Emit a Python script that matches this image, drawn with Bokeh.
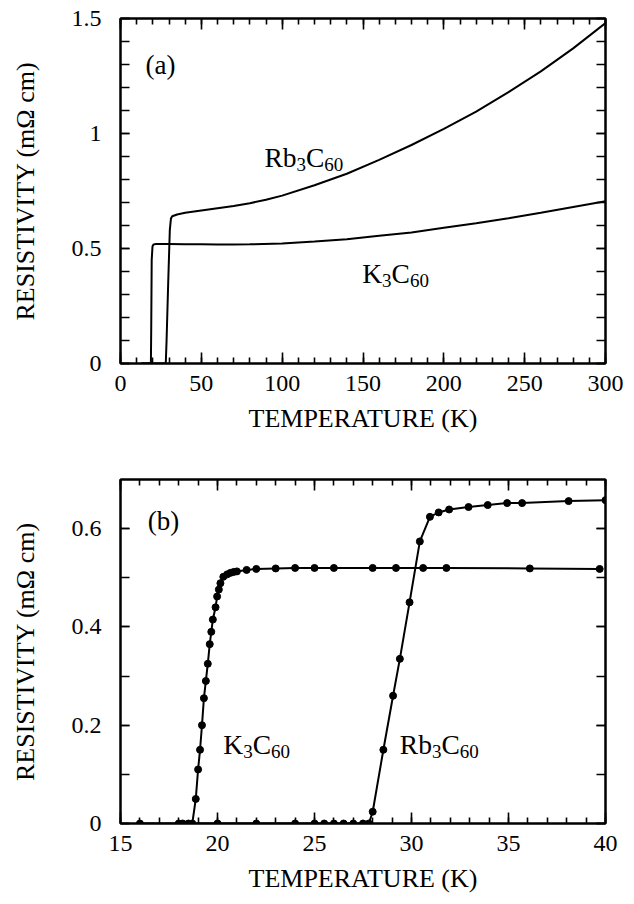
from bokeh.plotting import figure
from bokeh.models import LinearAxis, SingleIntervalTicker, Range1d, CustomJSTickFormatter
from bokeh.layouts import column
from bokeh.core.properties import value
from bokeh.embed import file_html
from bokeh.resources import INLINE

FONT = "Liberation Serif"

# ---------------- data ----------------
# panel (a): 0-300 K
rb_a_T = [13, 20, 27.5, 28.0, 28.5, 29.5, 30.5, 31.2, 32, 35, 40, 50, 60, 70, 80, 90, 100,
          120, 140, 160, 180, 200, 220, 240, 260, 280, 300]
rb_a_R = [0, 0, 0, 0.0, 0.10, 0.35, 0.58, 0.63, 0.64, 0.648, 0.655, 0.665, 0.675, 0.685,
          0.697, 0.712, 0.73, 0.775, 0.825, 0.885, 0.95, 1.02, 1.095, 1.18, 1.27, 1.37, 1.48]
k_a_T = [13, 18.8, 19.0, 19.3, 19.8, 20.5, 22, 30, 40, 50, 60, 70, 80, 100, 120, 140, 160,
         180, 200, 220, 240, 260, 280, 300]
k_a_R = [0, 0, 0.15, 0.45, 0.51, 0.518, 0.52, 0.52, 0.519, 0.518, 0.517, 0.517, 0.518,
         0.522, 0.53, 0.54, 0.555, 0.57, 0.59, 0.61, 0.632, 0.655, 0.68, 0.705]

# panel (b): 15-40 K
k_b_T = [18.0, 18.2, 18.5, 18.7, 18.88, 19.0, 19.1, 19.2, 19.3, 19.4, 19.5, 19.6, 19.68,
         19.76, 19.9, 19.98, 20.07, 20.15, 20.3, 20.5, 20.67, 20.84, 21.0, 21.5, 22.0, 23.0,
         24.0, 25.0, 26.0, 28.0, 29.2, 30.6, 31.8, 36.1, 39.7]
k_b_R = [0, 0, 0, 0, 0.05, 0.11, 0.15, 0.20, 0.255, 0.29, 0.325, 0.365, 0.39, 0.415, 0.44,
         0.462, 0.476, 0.489, 0.502, 0.507, 0.51, 0.512, 0.513, 0.516, 0.518, 0.519, 0.52,
         0.52, 0.52, 0.52, 0.52, 0.52, 0.52, 0.519, 0.518]
rb_b_T = [16, 20, 22, 24, 25, 25.5, 26, 26.5, 27, 27.5, 27.8, 28.0, 28.55, 29.05, 29.4,
          29.9, 30.43, 30.95, 31.4, 31.94, 32.94, 33.93, 34.93, 35.7, 38.1, 40]
rb_b_R = [0, 0, 0, 0, 0, 0, 0, 0, 0, 0, 0, 0.024, 0.15, 0.26, 0.335, 0.45, 0.574, 0.624,
          0.633, 0.639, 0.644, 0.648, 0.652, 0.652, 0.656, 0.658]

x_title = "TEMPERATURE (K)"
y_title = "RESISTIVITY (m\u03a9 cm)"

# ---------------- layout constants ----------------
FW = 485
FH_A, FH_B = 345, 344
TICK_FS = "24px"
TITLE_FS = "26px"
LBL_MAIN, LBL_SUB = 27.5, 19
CHAR_W = {"R": 0.667, "b": 0.5, "C": 0.667, "K": 0.722, "3": 0.5, "6": 0.5, "0": 0.5}

fmt = CustomJSTickFormatter(code="return (Math.round(tick*10)/10).toString()")
blank = CustomJSTickFormatter(code="return ''")


def tune(ax, tin, tmin):
    ax.major_tick_in = tin
    ax.major_tick_out = 0
    ax.minor_tick_in = tmin
    ax.minor_tick_out = 0
    ax.axis_line_width = 2
    ax.major_tick_line_width = 1.6
    ax.minor_tick_line_width = 1.6
    ax.major_label_text_font = FONT
    ax.major_label_text_font_size = TICK_FS
    ax.major_label_text_color = "black"
    ax.axis_label_text_font = FONT
    ax.axis_label_text_font_style = "normal"
    ax.axis_label_text_font_size = TITLE_FS
    ax.axis_label_text_color = "black"


def build(p, xt, yt):
    p.grid.visible = False
    p.outline_line_color = "black"
    p.outline_line_width = 2
    bottom = LinearAxis(ticker=xt, axis_label=x_title, major_label_standoff=12,
                        axis_label_standoff=10)
    left = LinearAxis(ticker=yt, formatter=fmt, axis_label=y_title, major_label_standoff=19,
                      axis_label_standoff=29)
    top = LinearAxis(ticker=xt, formatter=blank, major_label_standoff=0)
    right = LinearAxis(ticker=yt, formatter=blank, major_label_standoff=0)
    for ax in (bottom, top):
        tune(ax, 11, 6)
    for ax in (left, right):
        tune(ax, 9, 9)
    p.add_layout(bottom, "below")
    p.add_layout(left, "left")
    p.add_layout(top, "above")
    p.add_layout(right, "right")


def chem_label(p, x, y, parts, py_per_unit):
    off = 0.0
    for txt, sub in parts:
        size = LBL_SUB if sub else LBL_MAIN
        yy = y - (7.0 / py_per_unit if sub else 0.0)
        p.text(x=[x], y=[yy], text=[txt], x_offset=off, text_font=value(FONT),
               text_font_size=f"{size}px", text_baseline="alphabetic", text_align="left",
               text_color="black")
        off += sum(CHAR_W[c] for c in txt) * size


RB = [("Rb", False), ("3", True), ("C", False), ("60", True)]
KK = [("K", False), ("3", True), ("C", False), ("60", True)]

# ---------------- panel (a) ----------------
pa = figure(frame_width=FW, frame_height=FH_A, x_range=Range1d(0, 300), y_range=Range1d(0, 1.5),
            output_backend="svg", toolbar_location=None, x_axis_type=None, y_axis_type=None,
            min_border_left=120, min_border_right=22, min_border_top=18, min_border_bottom=80)
build(pa, SingleIntervalTicker(interval=50, num_minor_ticks=5),
      SingleIntervalTicker(interval=0.5, num_minor_ticks=5))
pa.line(rb_a_T, rb_a_R, line_width=2, color="black")
pa.line(k_a_T, k_a_R, line_width=2, color="black")
pya = FH_A / 1.5
pa.text(x=[15.5], y=[1.30], text=["(a)"], text_font=value(FONT), text_font_size="27px",
        text_baseline="alphabetic", text_align="left", text_color="black")
chem_label(pa, 89.0, 0.896, RB, pya)
chem_label(pa, 149.5, 0.391, KK, pya)

# ---------------- panel (b) ----------------
pb = figure(frame_width=FW, frame_height=FH_B, x_range=Range1d(15, 40), y_range=Range1d(0, 0.7),
            output_backend="svg", toolbar_location=None, x_axis_type=None, y_axis_type=None,
            min_border_left=120, min_border_right=22, min_border_top=36, min_border_bottom=78)
build(pb, SingleIntervalTicker(interval=5, num_minor_ticks=5),
      SingleIntervalTicker(interval=0.2, num_minor_ticks=2))
pb.line(k_b_T, k_b_R, line_width=2, color="black")
pb.line(rb_b_T, rb_b_R, line_width=2, color="black")
pb.scatter(k_b_T, k_b_R, size=7, color="black")
pb.scatter(rb_b_T, rb_b_R, size=7, color="black")
pyb = FH_B / 0.7
pb.text(x=[16.4], y=[0.615], text=["(b)"], text_font=value(FONT), text_font_size="27px",
        text_baseline="alphabetic", text_align="left", text_color="black")
chem_label(pb, 20.3, 0.16, KK, pyb)
chem_label(pb, 29.4, 0.16, RB, pyb)

layout = column(pa, pb)
open("out.html", "w").write(file_html(layout, INLINE))
